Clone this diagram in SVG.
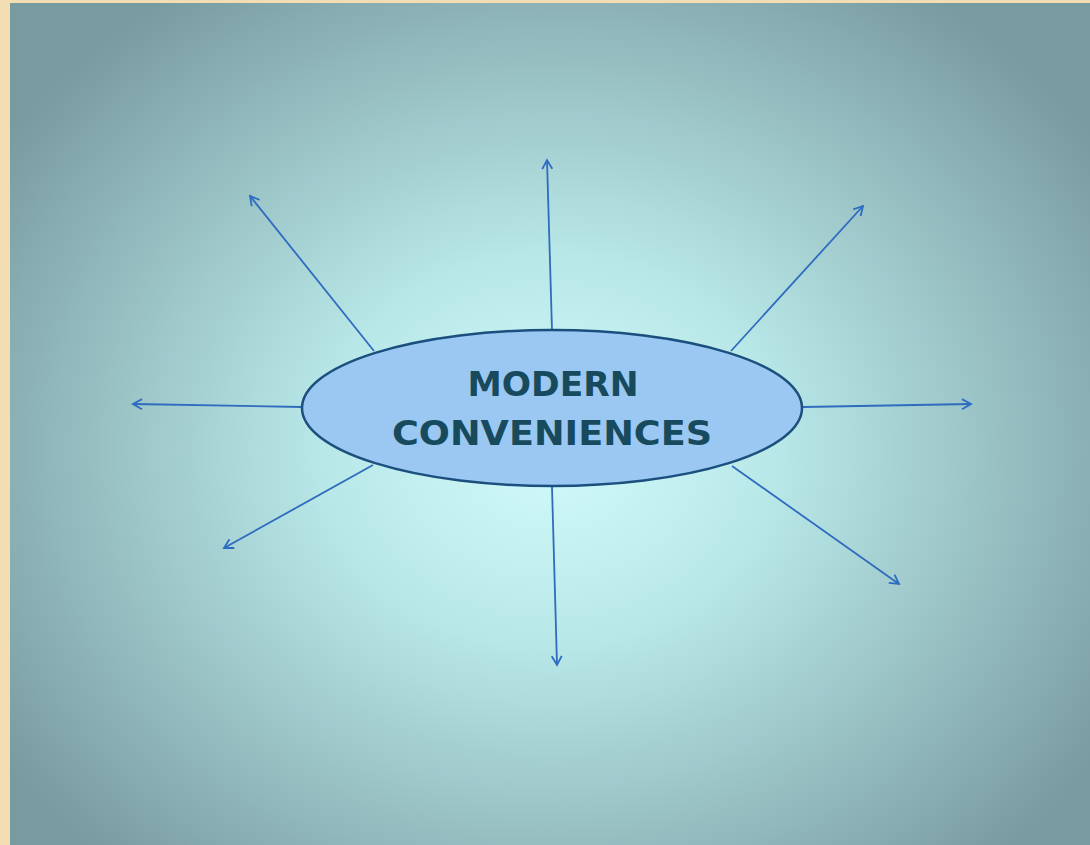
<svg xmlns="http://www.w3.org/2000/svg" width="1090" height="845" viewBox="0 0 1090 845">
<defs>
<radialGradient id="bg" cx="550" cy="450" r="660" gradientUnits="userSpaceOnUse" gradientTransform="translate(550 450) scale(1 0.85) translate(-550 -450)">
<stop offset="0" stop-color="#d2fbfb"/>
<stop offset="0.35" stop-color="#b8e7e7"/>
<stop offset="0.7" stop-color="#96bec1"/>
<stop offset="1" stop-color="#789aa1"/>
</radialGradient>
<marker id="ah" viewBox="0 0 12 12" refX="10" refY="6" markerWidth="12" markerHeight="12" markerUnits="userSpaceOnUse" orient="auto">
<path d="M1,1 L10,6 L1,11" fill="none" stroke="#2d6cc4" stroke-width="1.8" stroke-linejoin="miter"/>
</marker>
<style>
.c{stroke:#2f6bbf;stroke-width:1.8;fill:none;marker-end:url(#ah)}
.t{font-family:"Comic Sans MS","DejaVu Sans",sans-serif;font-size:33px;font-weight:bold;fill:#174a5c;text-anchor:middle}
</style>
</defs>
<rect width="1090" height="845" fill="#f3deb4"/>
<rect x="10" y="3" width="1080" height="842" fill="url(#bg)"/>
<g id="connectors">
<line class="c" x1="552" y1="330" x2="547" y2="160"/>
<line class="c" x1="374" y1="351" x2="250" y2="196"/>
<line class="c" x1="731" y1="351" x2="863" y2="206"/>
<line class="c" x1="302" y1="407" x2="133" y2="404"/>
<line class="c" x1="803" y1="407" x2="971" y2="404"/>
<line class="c" x1="373" y1="465" x2="224" y2="548"/>
<line class="c" x1="552" y1="487" x2="557" y2="665"/>
<line class="c" x1="732" y1="466" x2="899" y2="584"/>
</g>
<g id="center">
<ellipse cx="552" cy="408" rx="250" ry="78" fill="#9ac8f2" stroke="#1b4f7e" stroke-width="2.5"/>
<text class="t" x="553" y="396" textLength="171" lengthAdjust="spacingAndGlyphs">MODERN</text>
<text class="t" x="552" y="445" textLength="320" lengthAdjust="spacingAndGlyphs">CONVENIENCES</text>
</g>
</svg>
